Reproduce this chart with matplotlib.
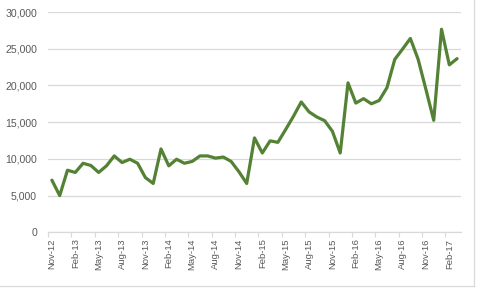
import matplotlib
matplotlib.use('Agg')
import matplotlib.pyplot as plt
from matplotlib.lines import Line2D

# monthly values, Nov-12 .. Mar-17
values = [7100, 5000, 8450, 8150, 9400, 9100, 8150, 9050, 10400, 9500,
          9950, 9400, 7450, 6650, 11350, 9050, 9950, 9400, 9650, 10400,
          10400, 10100, 10250, 9650, 8250, 6650, 12850, 10800, 12450, 12250,
          14000, 15800, 17750, 16400, 15700, 15200, 13750, 10800, 20350, 17600,
          18200, 17500, 17950, 19700, 23550, 24950, 26400, 23550, 19450, 15250,
          27650, 22800, 23650]
tick_labels = ['Nov-12', 'Feb-13', 'May-13', 'Aug-13', 'Nov-13', 'Feb-14',
               'May-14', 'Aug-14', 'Nov-14', 'Feb-15', 'May-15', 'Aug-15',
               'Nov-15', 'Feb-16', 'May-16', 'Aug-16', 'Nov-16', 'Feb-17']
y_ticks = [0, 5000, 10000, 15000, 20000, 25000, 30000]

plt.rcParams['font.family'] = ['Liberation Sans', 'DejaVu Sans']
text_col = '#595959'
grid_col = '#d9d9d9'

fig = plt.figure(figsize=(4.79, 2.89), dpi=100)
ax = fig.add_axes([48/479, 1 - 232.3/289, 413/479, 220.3/289])

x = list(range(len(values)))
ax.plot(x, values, color='#548235', linewidth=2.3, solid_joinstyle='round',
        solid_capstyle='round', zorder=3)

ax.set_xlim(-0.5, len(values) - 0.5)
ax.set_ylim(0, 30000)
ax.set_yticks(y_ticks)
ax.set_yticklabels([f'{v:,}' for v in y_ticks])
ax.yaxis.grid(True, color=grid_col, linewidth=0.9)
ax.set_axisbelow(True)

ax.set_xticks(list(range(0, len(values), 3)))
ax.set_xticklabels(tick_labels, rotation=90)
ax.set_xticks([i - 0.5 for i in range(0, len(values) + 1, 3)], minor=True)
ax.tick_params(axis='x', which='major', length=0, pad=4.5, labelsize=6.8,
               labelcolor=text_col)
ax.tick_params(axis='x', which='minor', length=3.6, width=0.8, color=grid_col)
ax.tick_params(axis='y', length=0, pad=8, labelsize=7.6, labelcolor=text_col)

for s in ['top', 'right', 'left']:
    ax.spines[s].set_visible(False)
ax.spines['bottom'].set_color(grid_col)
ax.spines['bottom'].set_linewidth(0.9)

# chart area border (only bottom and right visible)
fig.add_artist(Line2D([0, 473.5/479], [1 - 285.5/289, 1 - 285.5/289],
                      color=grid_col, linewidth=0.9))
fig.add_artist(Line2D([473.5/479, 473.5/479], [1 - 285.5/289, 1],
                      color=grid_col, linewidth=0.9))

fig.savefig('out.png', dpi=100)
